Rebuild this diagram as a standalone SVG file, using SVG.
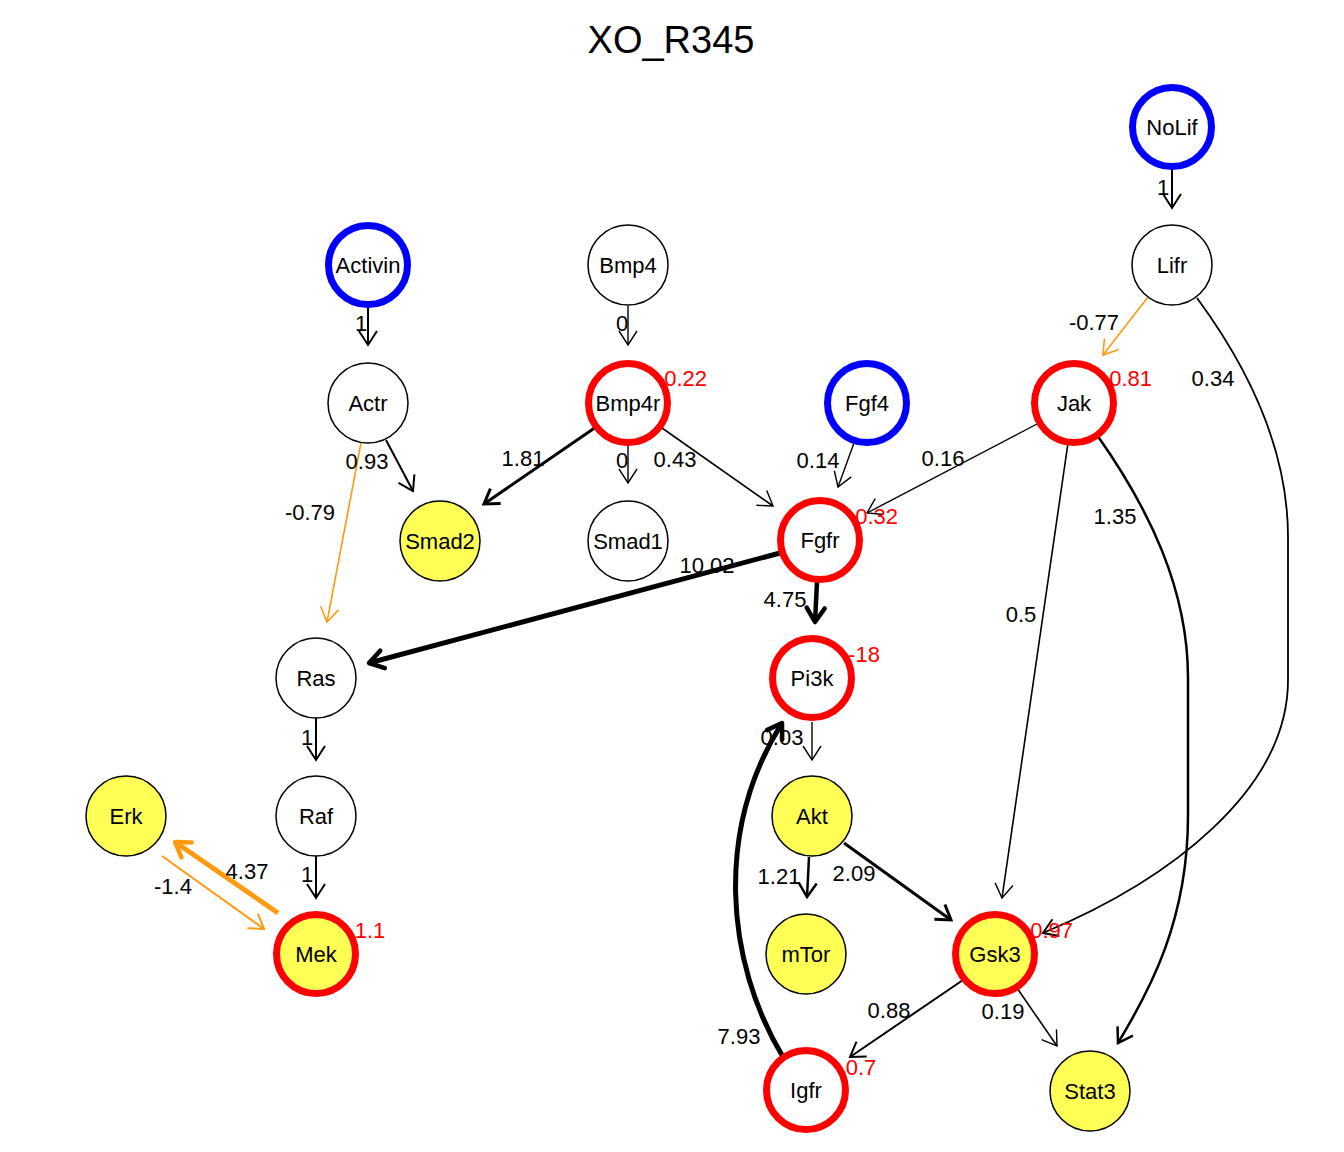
<svg xmlns="http://www.w3.org/2000/svg" width="1344" height="1152" viewBox="0 0 1344 1152">
<style>
text{font-family:"Liberation Sans",Arial,sans-serif;font-size:22px;text-anchor:middle;fill:#000}
.title{font-size:38px}
.ann{fill:#FF0000}
.n{fill:#fff;stroke:#000;stroke-width:1.5}
.y{fill:#FFFF55}
.red{stroke:#FF0000;stroke-width:7}
.blue{stroke:#0000FF;stroke-width:7}
.e{fill:none;stroke:#000}
.o{fill:none;stroke:#FF9A10}
</style>
<defs>
<marker id="k13" markerUnits="userSpaceOnUse" viewBox="-20 -20 40 40" markerWidth="40" markerHeight="40" refX="0" refY="0" orient="auto" overflow="visible"><path d="M-14,-9 L0,0 L-14,9" fill="none" stroke="#000" stroke-width="1.4"/></marker>
<marker id="k20" markerUnits="userSpaceOnUse" viewBox="-20 -20 40 40" markerWidth="40" markerHeight="40" refX="0" refY="0" orient="auto" overflow="visible"><path d="M-14,-9 L0,0 L-14,9" fill="none" stroke="#000" stroke-width="2"/></marker>
<marker id="k25" markerUnits="userSpaceOnUse" viewBox="-20 -20 40 40" markerWidth="40" markerHeight="40" refX="0" refY="0" orient="auto" overflow="visible"><path d="M-14,-9 L0,0 L-14,9" fill="none" stroke="#000" stroke-width="2.5"/></marker>
<marker id="k30" markerUnits="userSpaceOnUse" viewBox="-20 -20 40 40" markerWidth="40" markerHeight="40" refX="0" refY="0" orient="auto" overflow="visible"><path d="M-14,-9 L0,0 L-14,9" fill="none" stroke="#000" stroke-width="3"/></marker>
<marker id="k45" markerUnits="userSpaceOnUse" viewBox="-20 -20 40 40" markerWidth="40" markerHeight="40" refX="0" refY="0" orient="auto" overflow="visible"><path d="M-14,-9 L0,0 L-14,9" fill="none" stroke="#000" stroke-width="4.5" stroke-linecap="round" stroke-linejoin="round"/></marker>
<marker id="o15" markerUnits="userSpaceOnUse" viewBox="-20 -20 40 40" markerWidth="40" markerHeight="40" refX="0" refY="0" orient="auto" overflow="visible"><path d="M-14,-9 L0,0 L-14,9" fill="none" stroke="#FF9A10" stroke-width="1.6"/></marker>
<marker id="o20" markerUnits="userSpaceOnUse" viewBox="-20 -20 40 40" markerWidth="40" markerHeight="40" refX="0" refY="0" orient="auto" overflow="visible"><path d="M-14,-9 L0,0 L-14,9" fill="none" stroke="#FF9A10" stroke-width="2"/></marker>
<marker id="o45" markerUnits="userSpaceOnUse" viewBox="-20 -20 40 40" markerWidth="40" markerHeight="40" refX="0" refY="0" orient="auto" overflow="visible"><path d="M-14,-9 L0,0 L-14,9" fill="none" stroke="#FF9A10" stroke-width="4.5" stroke-linecap="round" stroke-linejoin="round"/></marker>
</defs>
<rect width="1344" height="1152" fill="#fff"/>
<text class="title" x="671" y="53">XO_R345</text>

<g id="connectors">
<path class="e" stroke-width="2" d="M1172,170 L1172,208" marker-end="url(#k20)"/>
<path class="o" stroke-width="1.6" d="M1148,297 L1103,355" marker-end="url(#o15)"/>
<path class="e" stroke-width="1.8" d="M1197,298 C1250,370 1288,450 1288,537 L1288,680 C1288,790 1170,880 1043,933" marker-end="url(#k20)"/>
<path class="e" stroke-width="2.5" d="M1097,435 C1150,510 1188,590 1188,678 L1188,816 C1188,920 1150,990 1118,1043" marker-end="url(#k25)"/>
<path class="e" stroke-width="1.6" d="M1068,443 L1002,898" marker-end="url(#k13)"/>
<path class="e" stroke-width="1.4" d="M1037,424 L867,513" marker-end="url(#k13)"/>
<path class="e" stroke-width="1.4" d="M854,443 L838,487" marker-end="url(#k13)"/>
<path class="e" stroke-width="1.6" d="M662,428 L773,506" marker-end="url(#k13)"/>
<path class="e" stroke-width="1.4" d="M628,443 L628,483" marker-end="url(#k13)"/>
<path class="e" stroke-width="3" d="M596,427 L484,504" marker-end="url(#k30)"/>
<path class="e" stroke-width="1.4" d="M628,306 L628,345" marker-end="url(#k13)"/>
<path class="e" stroke-width="2" d="M368,306 L368,345" marker-end="url(#k20)"/>
<path class="e" stroke-width="2" d="M386,440 L413,491" marker-end="url(#k20)"/>
<path class="o" stroke-width="1.6" d="M361,443 L327,622" marker-end="url(#o15)"/>
<path class="e" stroke-width="5" d="M780,553 L369,663" marker-end="url(#k45)"/>
<path class="e" stroke-width="4.5" d="M817,582 L815,622" marker-end="url(#k45)"/>
<path class="e" stroke-width="1.4" d="M812,722 L812,760" marker-end="url(#k13)"/>
<path class="e" stroke-width="5" d="M783,1057 C725,960 715,830 782,723" marker-end="url(#k45)"/>
<path class="e" stroke-width="2.5" d="M809,857 L807,897" marker-end="url(#k25)"/>
<path class="e" stroke-width="3" d="M844,843 L951,920" marker-end="url(#k30)"/>
<path class="e" stroke-width="2" d="M963,980 L850,1057" marker-end="url(#k20)"/>
<path class="e" stroke-width="1.6" d="M1017,988 L1057,1046" marker-end="url(#k13)"/>
<path class="e" stroke-width="2" d="M316,718 L316,760" marker-end="url(#k20)"/>
<path class="e" stroke-width="2" d="M316,856 L316,898" marker-end="url(#k20)"/>
<path class="o" stroke-width="5" d="M278,913 L175,842" marker-end="url(#o45)"/>
<path class="o" stroke-width="2" d="M162,856 L264,929" marker-end="url(#o20)"/>
<g id="edge-labels">
<text x="1163" y="195">1</text>
<text x="1094" y="330">-0.77</text>
<text x="1213" y="386">0.34</text>
<text x="1115" y="524">1.35</text>
<text x="1021" y="622">0.5</text>
<text x="943" y="466">0.16</text>
<text x="818" y="468">0.14</text>
<text x="675" y="467">0.43</text>
<text x="622" y="468">0</text>
<text x="523" y="466">1.81</text>
<text x="622" y="331">0</text>
<text x="361" y="331">1</text>
<text x="367" y="469">0.93</text>
<text x="310" y="520">-0.79</text>
<text x="707" y="573">10.02</text>
<text x="785" y="607">4.75</text>
<text x="782" y="745">0.03</text>
<text x="739" y="1044">7.93</text>
<text x="779" y="884">1.21</text>
<text x="854" y="881">2.09</text>
<text x="889" y="1018">0.88</text>
<text x="1003" y="1019">0.19</text>
<text x="307" y="745">1</text>
<text x="307" y="882">1</text>
<text x="247" y="879">4.37</text>
<text x="173" y="894">-1.4</text>
</g>
</g>

<g id="NoLif"><circle class="n blue" cx="1172" cy="127" r="39.5"/><text x="1172" y="134.5">NoLif</text></g>
<g id="Lifr"><circle class="n" cx="1172" cy="265" r="40"/><text x="1172" y="272.5">Lifr</text></g>
<g id="Activin"><circle class="n blue" cx="368" cy="265" r="39.5"/><text x="368" y="272.5">Activin</text></g>
<g id="Bmp4"><circle class="n" cx="628" cy="265" r="40"/><text x="628" y="272.5">Bmp4</text></g>
<g id="Actr"><circle class="n" cx="368" cy="403" r="40"/><text x="368" y="410.5">Actr</text></g>
<g id="Bmp4r"><circle class="n red" cx="628" cy="403" r="39.5"/><text x="628" y="410.5">Bmp4r</text><text class="ann" x="682" y="386">-0.22</text></g>
<g id="Fgf4"><circle class="n blue" cx="867" cy="403" r="39.5"/><text x="867" y="410.5">Fgf4</text></g>
<g id="Jak"><circle class="n red" cx="1074" cy="403" r="39.5"/><text x="1074" y="410.5">Jak</text><text class="ann" x="1127" y="386">-0.81</text></g>
<g id="Smad2"><circle class="n y" cx="440" cy="541" r="40"/><text x="440" y="548.5">Smad2</text></g>
<g id="Smad1"><circle class="n" cx="628" cy="541" r="40"/><text x="628" y="548.5">Smad1</text></g>
<g id="Fgfr"><circle class="n red" cx="820" cy="540" r="39.5"/><text x="820" y="547.5">Fgfr</text><text class="ann" x="873" y="524">-0.32</text></g>
<g id="Ras"><circle class="n" cx="316" cy="678" r="40"/><text x="316" y="685.5">Ras</text></g>
<g id="Pi3k"><circle class="n red" cx="812" cy="678" r="39.5"/><text x="812" y="685.5">Pi3k</text><text class="ann" x="864" y="662">-18</text></g>
<g id="Erk"><circle class="n y" cx="126" cy="816" r="40"/><text x="126" y="823.5">Erk</text></g>
<g id="Raf"><circle class="n" cx="316" cy="816" r="40"/><text x="316" y="823.5">Raf</text></g>
<g id="Akt"><circle class="n y" cx="812" cy="816" r="40"/><text x="812" y="823.5">Akt</text></g>
<g id="Mek"><circle class="n y red" cx="316" cy="954" r="39.5"/><text x="316" y="961.5">Mek</text><text class="ann" x="370" y="938">1.1</text></g>
<g id="mTor"><circle class="n y" cx="806" cy="954" r="40"/><text x="806" y="961.5">mTor</text></g>
<g id="Gsk3"><circle class="n y red" cx="995" cy="954" r="39.5"/><text x="995" y="961.5">Gsk3</text><text class="ann" x="1048" y="938">-0.97</text></g>
<g id="Igfr"><circle class="n red" cx="806" cy="1090" r="39.5"/><text x="806" y="1097.5">Igfr</text><text class="ann" x="861" y="1075">0.7</text></g>
<g id="Stat3"><circle class="n y" cx="1090" cy="1091" r="40"/><text x="1090" y="1098.5">Stat3</text></g>
</svg>
